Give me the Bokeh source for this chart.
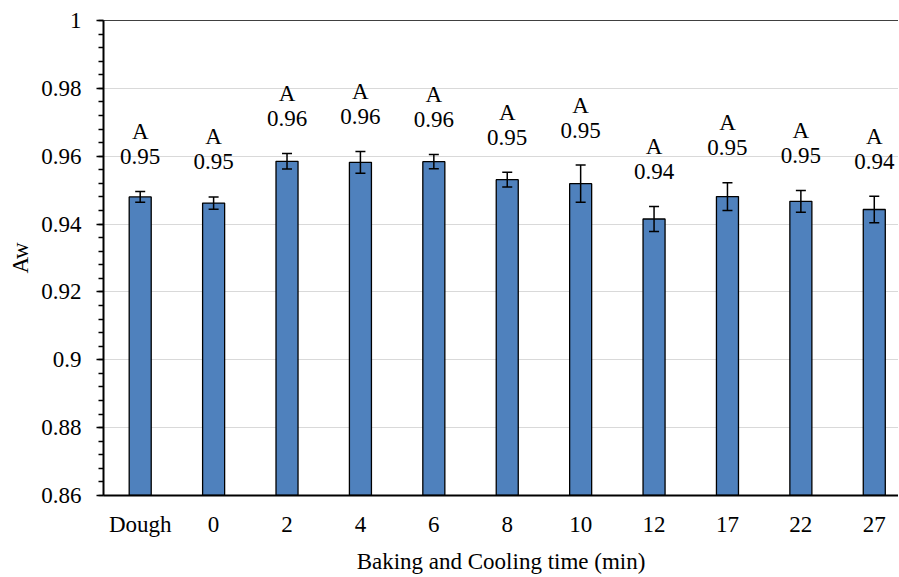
from bokeh.plotting import figure
from bokeh.models import (Range1d, SingleIntervalTicker, FixedTicker, LinearAxis,
                          CustomJSTickFormatter, ColumnDataSource, Whisker, TeeHead)
from bokeh.embed import file_html
from bokeh.resources import INLINE
from bokeh.core.properties import value

# ---- data ----
categories = ["Dough", "0", "2", "4", "6", "8", "10", "12", "17", "22", "27"]
aw_mean = [0.9480, 0.9462, 0.9585, 0.9582, 0.9584, 0.9531, 0.9519, 0.9415, 0.9481, 0.9467, 0.9443]
aw_sd = [0.0016, 0.0018, 0.0023, 0.0032, 0.0021, 0.0022, 0.0055, 0.0037, 0.0041, 0.0032, 0.0039]
letters = ["A", "A", "A", "A", "A", "A", "A", "A", "A", "A", "A"]
y_min, y_max, y_step = 0.86, 1.0, 0.02

FONT = "Liberation Serif"
FS = "23px"

xs = list(range(len(categories)))
src = ColumnDataSource(dict(
    x=xs,
    top=aw_mean,
    lower=[m - s for m, s in zip(aw_mean, aw_sd)],
    upper=[m + s for m, s in zip(aw_mean, aw_sd)],
    letter=letters,
    label=[f"{m:.2f}" for m in aw_mean],
))

p = figure(width=898, height=576,
           x_range=Range1d(-0.5, 10.33), y_range=Range1d(y_min, y_max),
           output_backend="svg", toolbar_location=None,
           min_border_left=103, min_border_right=0, min_border_top=20, min_border_bottom=81)
p.outline_line_color = None
p.background_fill_color = "white"
p.border_fill_color = "white"

p.vbar(x="x", top="top", bottom=y_min, width=0.3, source=src,
       fill_color="#4f81bd", line_color="black", line_width=1.3)

p.add_layout(Whisker(base="x", lower="lower", upper="upper", source=src, level="overlay",
                     line_color="black", line_width=1.5,
                     upper_head=TeeHead(size=10, line_color="black", line_width=1.5),
                     lower_head=TeeHead(size=10, line_color="black", line_width=1.5)))

p.text(x="x", y="upper", text="label", source=src, text_align="center",
       text_baseline="middle", y_offset=-35, text_font=value(FONT),
       text_font_size=FS, text_color="black")
p.text(x="x", y="upper", text="letter", source=src, text_align="center",
       text_baseline="middle", y_offset=-60, text_font=value(FONT),
       text_font_size=FS, text_color="black")

# grid
p.xgrid.visible = False
p.ygrid.grid_line_color = "#d9d9d9"
p.ygrid.grid_line_width = 1

# y axis
yax = p.yaxis[0]
yax.ticker = SingleIntervalTicker(interval=y_step, num_minor_ticks=5)
yax.formatter = CustomJSTickFormatter(code="return String(Math.round(tick*100)/100);")
yax.axis_label = "Aw"
yax.axis_line_color = "black"
yax.axis_line_width = 2
yax.major_tick_out = 7
yax.major_tick_in = 0
yax.minor_tick_out = 5
yax.minor_tick_in = 0
yax.major_tick_line_width = 1.5
yax.minor_tick_line_width = 1.5
yax.major_tick_line_color = "black"
yax.minor_tick_line_color = "black"
yax.major_label_standoff = 15
yax.axis_label_standoff = 5

# x axis
xax = p.xaxis[0]
xax.ticker = FixedTicker(ticks=xs)
xax.major_label_overrides = {i: c for i, c in zip(xs, categories)}
xax.axis_label = "Baking and Cooling time (min)"
xax.axis_line_color = "black"
xax.axis_line_width = 2
xax.major_tick_out = 0
xax.major_tick_in = 0
xax.minor_tick_line_color = None
xax.major_label_standoff = 16
xax.axis_label_standoff = 9

for ax in (xax, yax):
    ax.major_label_text_font = FONT
    ax.major_label_text_font_size = FS
    ax.major_label_text_color = "black"
    ax.axis_label_text_font = FONT
    ax.axis_label_text_font_size = FS
    ax.axis_label_text_font_style = "normal"
    ax.axis_label_text_color = "black"

# top border line of the plot area
top = LinearAxis(ticker=FixedTicker(ticks=[]), axis_line_color="#404040", axis_line_width=1,
                 major_tick_out=0, major_tick_in=0, minor_tick_out=0, minor_tick_in=0,
                 major_label_text_font_size="0px")
p.add_layout(top, "above")

open("out.html", "w").write(file_html(p, INLINE))
